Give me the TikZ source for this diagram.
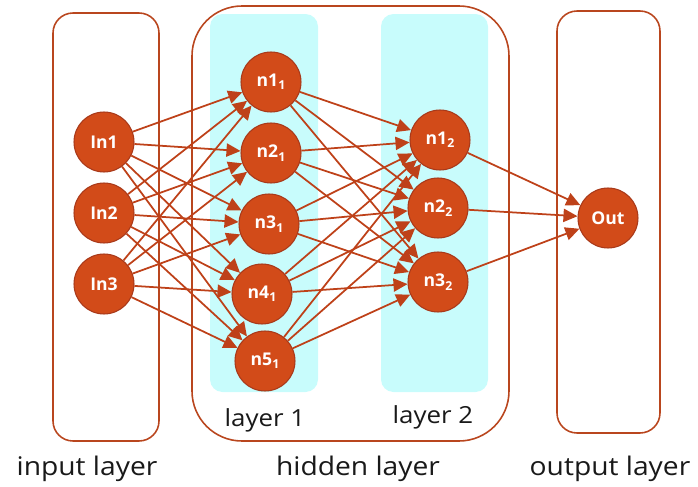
\documentclass[tikz,border=0pt]{standalone}
\usepackage{fontspec}
\setmainfont{Open Sans}
\newfontfamily\labelfont[FakeStretch=1.1]{Open Sans}
\usetikzlibrary{arrows.meta}
\definecolor{edgec}{HTML}{BE4119}
\definecolor{nodefill}{HTML}{D24B19}
\definecolor{nodeborder}{HTML}{A8391A}
\definecolor{boxc}{HTML}{B9461E}
\definecolor{cyanfill}{HTML}{C8FCFC}
\tikzset{
  neuron/.style={circle, fill=nodefill, draw=nodeborder, line width=0.6pt, minimum size=1.2cm, inner sep=0pt, text=white, font=\fontsize{10}{11}\selectfont\bfseries},
  group/.style={draw=boxc, line width=0.9pt},
  band/.style={fill=cyanfill, draw=none, rounded corners=0.25cm},
  link/.style={draw=edgec, line width=1pt, -{Triangle[length=8pt,width=7.5pt]}},
  biglabel/.style={anchor=base, font=\labelfont\fontsize{14.6}{16}\selectfont, text=black!90},
  laylabel/.style={anchor=base, font=\labelfont\fontsize{13.4}{15}\selectfont, text=black!90}
}
\newcommand{\sbs}[1]{\raisebox{-0.35ex}{\fontsize{7}{8}\selectfont #1}}
\begin{document}
\begin{tikzpicture}[x=0.02cm, y=-0.02cm]
\useasboundingbox (0,0) rectangle (698,487);
% bands
\path[band] (210,14) rectangle (318,392);
\path[band] (381,14) rectangle (488,392);
% boxes
\draw[group, rounded corners=0.4cm] (53,13) rectangle (159,441);
\draw[group, rounded corners=1.0cm] (192,6) rectangle (509,441);
\draw[group, rounded corners=0.4cm] (557,11) rectangle (660,433);
% nodes
\node[neuron] (i1) at (104,142) {In1};
\node[neuron] (i2) at (104,213) {In2};
\node[neuron] (i3) at (104,284) {In3};
\node[neuron] (a1) at (271,82) {n1\sbs{1}};
\node[neuron] (a2) at (271,153) {n2\sbs{1}};
\node[neuron] (a3) at (269,224) {n3\sbs{1}};
\node[neuron] (a4) at (262,294) {n4\sbs{1}};
\node[neuron] (a5) at (265,361) {n5\sbs{1}};
\node[neuron] (b1) at (440,140) {n1\sbs{2}};
\node[neuron] (b2) at (438,208) {n2\sbs{2}};
\node[neuron] (b3) at (438,282) {n3\sbs{2}};
\node[neuron] (o) at (608,218) {Out};
% edges
\foreach \s in {i1,i2,i3}{\foreach \t in {a1,a2,a3,a4,a5}{\draw[link] (\s) -- (\t);}}
\foreach \s in {a1,a2,a3,a4,a5}{\foreach \t in {b1,b2,b3}{\draw[link] (\s) -- (\t);}}
\foreach \s in {b1,b2,b3}{\draw[link] (\s) -- (o);}
% labels
\node[laylabel] (l1) at (265,426) {layer 1};
\node[laylabel] (l2) at (433,423) {layer 2};
\node[biglabel] (li) at (87,475) {input layer};
\node[biglabel] (lh) at (358,475) {hidden layer};
\node[biglabel] (lo) at (610,475) {output layer};
\end{tikzpicture}
\end{document}
